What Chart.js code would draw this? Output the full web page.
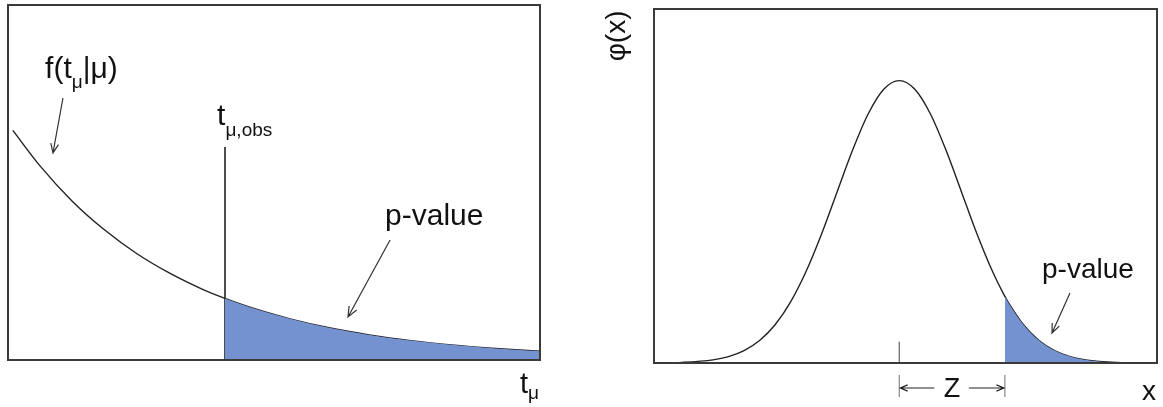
<!DOCTYPE html>
<html lang="en">
<head>
    <meta charset="UTF-8">
    <title>p-value and significance</title>
    <script src="https://cdn.jsdelivr.net/npm/chart.js@4.4.0/dist/chart.umd.min.js"></script>
    <style>
        * {
            margin: 0;
            padding: 0;
            box-sizing: border-box;
        }

        body {
            background: #ffffff;
            width: 1163px;
            height: 407px;
            position: relative;
            overflow: hidden;
            font-family: "Liberation Sans", Arial, sans-serif;
        }

        .panel {
            position: absolute;
            top: 0;
            height: 407px;
        }

        #leftPanel {
            left: 0;
            width: 560px;
        }

        #rightPanel {
            left: 580px;
            width: 583px;
        }
    </style>
</head>
<body>
    <div class="panel" id="leftPanel">
        <canvas id="testStatChart" width="560" height="407"></canvas>
    </div>
    <div class="panel" id="rightPanel">
        <canvas id="gaussChart" width="583" height="407"></canvas>
    </div>

    <script>
        // Left: pdf of the test statistic t_mu
        const tGrid = [0.03, 0.2, 0.4, 0.6, 0.8, 1.0, 1.2, 1.346, 1.5, 1.75, 2.0, 2.25, 2.5, 2.75, 3.0, 3.3];
        const fDensity = [0.970, 0.819, 0.670, 0.549, 0.449, 0.368, 0.301, 0.260, 0.223, 0.174, 0.135, 0.105, 0.082, 0.064, 0.050, 0.037];
        const tObs = 1.346;
        const tObsLineTop = 0.9;

        // Right: standard normal phi(x)
        const xGrid = [-3.95, -3.5, -3, -2.75, -2.5, -2.25, -2, -1.75, -1.5, -1.25, -1, -0.75, -0.5, -0.25,
                       0, 0.25, 0.5, 0.75, 1, 1.25, 1.5, 1.7, 1.75, 2, 2.25, 2.5, 2.75, 3, 3.5, 4.15];
        const phiValues = [0.0002, 0.0009, 0.0044, 0.0091, 0.0175, 0.0317, 0.054, 0.0863, 0.1295, 0.1826, 0.242, 0.3011, 0.3521, 0.3867,
                           0.3989, 0.3867, 0.3521, 0.3011, 0.242, 0.1826, 0.1295, 0.094, 0.0863, 0.054, 0.0317, 0.0175, 0.0091, 0.0044, 0.0009, 0.0001];
        const zCut = 1.7;
        const meanTickTop = 0.03;

        const INK = '#222222';
        const FRAME = '#3a3a3a';
        const TAIL_FILL = '#7592d0';
        const FONT = '"Liberation Sans", Arial, sans-serif';

        const toPoints = (xs, ys) => xs.map((x, i) => ({ x: x, y: ys[i] }));
        const tailPoints = (xs, ys, cut) => toPoints(xs, ys).filter(p => p.x >= cut);

        function drawArrow(ctx, x1, y1, x2, y2, head) {
            const ang = Math.atan2(y2 - y1, x2 - x1);
            ctx.beginPath();
            ctx.moveTo(x1, y1);
            ctx.lineTo(x2, y2);
            ctx.moveTo(x2 - head * Math.cos(ang - 0.4), y2 - head * Math.sin(ang - 0.4));
            ctx.lineTo(x2, y2);
            ctx.lineTo(x2 - head * Math.cos(ang + 0.4), y2 - head * Math.sin(ang + 0.4));
            ctx.stroke();
        }

        // text followed by a lowered subscript, returns end x
        function drawWithSub(ctx, x, y, main, sub, size, subSize, drop, tail) {
            ctx.font = size + 'px ' + FONT;
            ctx.fillText(main, x, y);
            x += ctx.measureText(main).width;
            ctx.font = subSize + 'px ' + FONT;
            ctx.fillText(sub, x, y + drop);
            x += ctx.measureText(sub).width;
            if (tail) {
                ctx.font = size + 'px ' + FONT;
                ctx.fillText(tail, x, y);
                x += ctx.measureText(tail).width;
            }
            return x;
        }

        function drawFrame(chart) {
            const { ctx, chartArea: a } = chart;
            ctx.save();
            ctx.strokeStyle = FRAME;
            ctx.lineWidth = 2;
            ctx.strokeRect(a.left, a.top, a.right - a.left, a.bottom - a.top);
            ctx.restore();
        }

        function lineDataset(points, opts) {
            return Object.assign({
                data: points,
                borderColor: INK,
                borderWidth: 1.4,
                pointRadius: 0,
                fill: false,
                cubicInterpolationMode: 'monotone'
            }, opts);
        }

        function baseOptions(xMin, xMax, yMax, padding) {
            return {
                responsive: false,
                animation: false,
                devicePixelRatio: 1,
                layout: { padding: padding },
                plugins: {
                    legend: { display: false },
                    tooltip: { enabled: false }
                },
                scales: {
                    x: { type: 'linear', min: xMin, max: xMax, display: false },
                    y: { type: 'linear', min: 0, max: yMax, display: false }
                }
            };
        }

        // Left panel
        new Chart(document.getElementById('testStatChart'), {
            type: 'line',
            data: {
                datasets: [
                    lineDataset(tailPoints(tGrid, fDensity, tObs), {
                        borderWidth: 0,
                        backgroundColor: TAIL_FILL,
                        fill: 'origin'
                    }),
                    lineDataset(toPoints(tGrid, fDensity)),
                    lineDataset([{ x: tObs, y: 0 }, { x: tObs, y: tObsLineTop }], {
                        borderWidth: 1.6,
                        cubicInterpolationMode: 'default',
                        tension: 0
                    })
                ]
            },
            options: baseOptions(0, 3.3, 1.5, { left: 8, top: 5, right: 20, bottom: 47 }),
            plugins: [{
                id: 'testStatDecor',
                afterDraw(chart) {
                    drawFrame(chart);
                    const ctx = chart.ctx;
                    const px = v => chart.scales.x.getPixelForValue(v);
                    const py = v => chart.scales.y.getPixelForValue(v);
                    ctx.save();
                    ctx.fillStyle = '#111';
                    ctx.strokeStyle = '#333';
                    ctx.lineWidth = 1.2;
                    ctx.textBaseline = 'alphabetic';

                    drawWithSub(ctx, px(0.23), py(1.19), 'f(t', '\u03bc', 30, 19, 10, '|\u03bc)');
                    drawArrow(ctx, px(0.341), py(1.107), px(0.279), py(0.875), 10);

                    drawWithSub(ctx, px(1.297), py(0.993), 't', '\u03bc,obs', 30, 19, 11);

                    ctx.font = '30px ' + FONT;
                    ctx.fillText('p-value', px(2.339), py(0.57));
                    drawArrow(ctx, px(2.37), py(0.507), px(2.109), py(0.182), 11);

                    drawWithSub(ctx, px(3.176), py(-0.139), 't', '\u03bc', 29, 19, 6);
                    ctx.restore();
                }
            }]
        });

        // Right panel
        new Chart(document.getElementById('gaussChart'), {
            type: 'line',
            data: {
                datasets: [
                    lineDataset(tailPoints(xGrid, phiValues, zCut), {
                        borderWidth: 0,
                        backgroundColor: TAIL_FILL,
                        fill: 'origin'
                    }),
                    lineDataset(toPoints(xGrid, phiValues)),
                    lineDataset([{ x: 0, y: 0 }, { x: 0, y: meanTickTop }], {
                        borderColor: '#777',
                        borderWidth: 1.4,
                        cubicInterpolationMode: 'default',
                        tension: 0
                    })
                ]
            },
            options: baseOptions(-3.95, 4.15, 0.5, { left: 74, top: 9, right: 6, bottom: 44 }),
            plugins: [{
                id: 'gaussDecor',
                afterDraw(chart) {
                    drawFrame(chart);
                    const ctx = chart.ctx;
                    const area = chart.chartArea;
                    const px = v => chart.scales.x.getPixelForValue(v);
                    const py = v => chart.scales.y.getPixelForValue(v);
                    ctx.save();
                    ctx.fillStyle = '#111';
                    ctx.strokeStyle = '#333';
                    ctx.lineWidth = 1.2;

                    ctx.font = '28px ' + FONT;
                    ctx.fillText('p-value', px(2.298), py(0.12));
                    drawArrow(ctx, px(2.749), py(0.0989), px(2.459), py(0.0424), 10);

                    ctx.fillText('x', px(3.908), py(-0.052));

                    // y-axis title
                    ctx.save();
                    ctx.translate(area.left - 37, py(0.462));
                    ctx.rotate(-Math.PI / 2);
                    ctx.textAlign = 'center';
                    ctx.textBaseline = 'middle';
                    ctx.fillText('\u03c6(x)', 0, 0);
                    ctx.restore();

                    // Z distance marker under the axis
                    const x0 = px(0), x1 = px(zCut);
                    const yArrow = py(-0.0353);
                    ctx.strokeStyle = '#888';
                    ctx.beginPath();
                    ctx.moveTo(x0, py(-0.017));
                    ctx.lineTo(x0, py(-0.048));
                    ctx.moveTo(x1, py(-0.017));
                    ctx.lineTo(x1, py(-0.048));
                    ctx.stroke();
                    ctx.strokeStyle = '#222';
                    drawArrow(ctx, x0 + 35, yArrow, x0 + 1, yArrow, 8);
                    drawArrow(ctx, x1 - 36, yArrow, x1 - 1, yArrow, 8);
                    ctx.font = '27px ' + FONT;
                    ctx.textAlign = 'center';
                    ctx.fillText('Z', px(zCut / 2), py(-0.048));
                    ctx.restore();
                }
            }]
        });
    </script>
</body>
</html>
